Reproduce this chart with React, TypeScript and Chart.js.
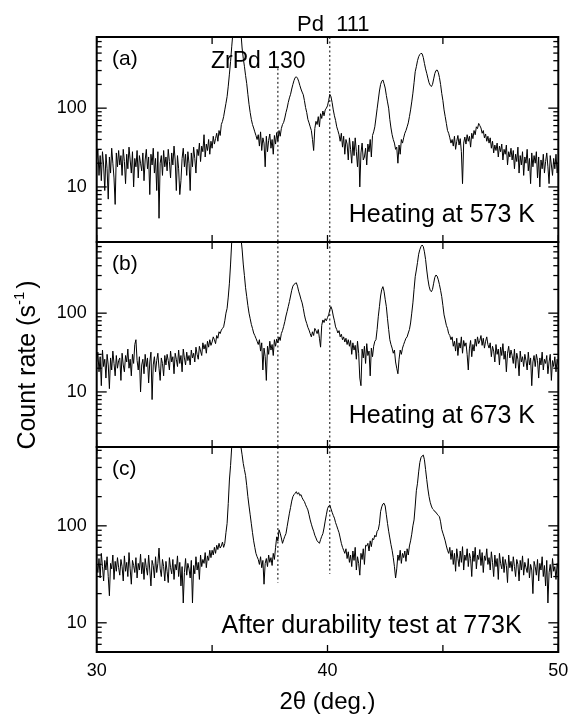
import React, { useEffect, useRef } from 'react';
import { Chart, registerables } from 'chart.js';

Chart.register(...registerables);

const FONT = '"Liberation Sans", Arial, Helvetica, sans-serif';

// 2θ sampling grid (deg.), 30.00 … 50.00 in 0.05° steps
const twoTheta: number[] = Array.from({ length: 401 }, (_, i) => (600 + i) / 20);

// (a) heating at 573 K — count rate (s^-1), one row per degree
const countsA: number[] = [
  22, 30, 14, 25, 12, 28, 19, 9, 26, 17, 7, 24, 15, 31, 20, 13, 6, 27, 18, 29,
  19, 25, 14, 30, 21, 11, 26, 17, 32, 22, 15, 28, 10, 23, 18, 29, 13, 25, 20, 16,
  27, 12, 22, 30, 17, 24, 8, 26, 19, 31, 15, 23, 9, 28, 4, 20, 25, 14, 29, 18,
  24, 16, 30, 21, 13, 27, 19, 33, 22, 9, 25, 17, 8, 12, 23, 31, 18, 26, 14, 28,
  20, 9, 27, 18, 32, 23, 15, 30, 25, 36, 21, 33, 28, 46, 24, 35, 29, 40, 26, 38,
  31, 44, 35, 41, 48, 38, 52, 45, 62, 68, 78, 95, 115, 140, 190, 270, 390, 600, 900, 1200,
  1400, 1550, 1600, 1500, 1200, 900, 580, 430, 340, 260, 205, 150, 112, 88, 72, 62, 56, 50, 45, 40,
  46, 33, 50, 29, 42, 36, 18, 44, 28, 39, 47, 31, 40, 26, 45, 35, 49, 38, 52, 44,
  55, 62, 66, 75, 88, 100, 118, 135, 150, 175, 200, 225, 245, 250, 240, 220, 195, 175, 160, 148,
  125, 102, 88, 72, 65, 58, 52, 40, 29, 55, 68, 62, 78, 58, 85, 74, 92, 80, 95, 100,
  107, 125, 150, 140, 118, 95, 80, 70, 58, 52, 46, 38, 48, 32, 44, 26, 40, 35, 22, 42,
  30, 20, 38, 25, 42, 28, 18, 34, 10, 27, 36, 22, 24, 31, 19, 35, 28, 40, 24, 45,
  50, 58, 75, 98, 127, 165, 200, 220, 228, 205, 180, 145, 120, 100, 72, 56, 46, 40, 36, 30,
  32, 20, 34, 26, 40, 36, 42, 48, 52, 58, 65, 78, 95, 120, 155, 210, 290, 336, 400, 450,
  480, 497, 490, 440, 370, 315, 277, 240, 210, 195, 188, 200, 235, 275, 300, 305, 285, 245, 200, 154,
  125, 95, 78, 64, 52, 48, 42, 36, 40, 33, 44, 30, 38, 45, 34, 41, 28, 11, 36, 43,
  35, 46, 38, 44, 32, 48, 41, 52, 46, 58, 55, 64, 60, 56, 48, 52, 42, 47, 38, 44,
  36, 42, 31, 38, 27, 34, 29, 36, 24, 33, 28, 35, 22, 30, 26, 34, 19, 28, 24, 31,
  22, 29, 17, 26, 21, 32, 15, 25, 19, 28, 14, 24, 20, 30, 16, 23, 11, 27, 18, 25,
  20, 28, 13, 24, 10, 22, 17, 26, 15, 21, 27, 18, 11, 25, 19, 14, 23, 17, 26, 15,
  21,
];

// (b) heating at 673 K
const countsB: number[] = [
  24, 32, 18, 28, 12, 34, 21, 26, 15, 30, 22, 11, 27, 19, 33, 23, 16, 29, 20, 25,
  27, 14, 31, 22, 18, 29, 24, 35, 20, 26, 16, 30, 23, 40, 46, 25, 19, 28, 10, 22,
  26, 17, 30, 21, 27, 13, 24, 32, 8, 22, 28, 18, 25, 31, 20, 14, 27, 23, 16, 29,
  22, 30, 25, 19, 33, 24, 28, 17, 31, 26, 21, 34, 23, 29, 18, 35, 27, 22, 32, 25,
  29, 22, 34, 27, 31, 24, 37, 30, 26, 38, 33, 29, 42, 35, 40, 31, 44, 37, 46, 39,
  43, 50, 46, 41, 52, 48, 58, 55, 61, 64, 67, 80, 100, 115, 160, 240, 420, 800, 1200, 1500,
  1600, 1700, 1650, 1500, 1200, 900, 650, 420, 300, 210, 162, 125, 100, 85, 72, 64, 56, 52, 48, 44,
  40, 46, 33, 42, 19, 36, 28, 14, 38, 30, 44, 34, 40, 29, 46, 38, 47, 42, 50, 45,
  55, 60, 68, 78, 92, 105, 121, 140, 165, 195, 220, 232, 238, 243, 220, 190, 170, 150, 135, 115,
  95, 82, 74, 66, 61, 55, 50, 58, 52, 64, 60, 55, 62, 48, 37, 70, 82, 76, 85, 80,
  88, 95, 110, 121, 110, 92, 80, 67, 62, 56, 60, 50, 54, 46, 50, 43, 48, 40, 46, 38,
  45, 30, 42, 34, 39, 26, 44, 31, 15, 12, 35, 27, 38, 23, 41, 29, 33, 16, 36, 28,
  38, 44, 46, 62, 90, 121, 165, 200, 217, 190, 150, 121, 85, 62, 46, 40, 36, 31, 34, 24,
  20, 17, 26, 34, 30, 36, 40, 44, 48, 50, 56, 62, 75, 100, 135, 200, 290, 353, 440, 560,
  640, 700, 733, 700, 600, 480, 353, 270, 220, 195, 187, 200, 240, 285, 305, 295, 265, 230, 195, 162,
  125, 95, 82, 70, 64, 55, 52, 46, 50, 38, 44, 33, 48, 29, 42, 36, 50, 31, 45, 38,
  42, 30, 19, 36, 45, 28, 40, 33, 47, 38, 50, 41, 45, 52, 39, 48, 36, 44, 50, 40,
  36, 42, 28, 38, 33, 24, 40, 30, 35, 22, 37, 29, 41, 26, 33, 18, 31, 38, 27, 34,
  29, 23, 35, 20, 31, 26, 16, 33, 24, 28, 21, 30, 25, 19, 32, 22, 27, 12, 24, 29,
  21, 30, 25, 15, 27, 22, 32, 19, 26, 23, 29, 17, 24, 30, 14, 25, 21, 28, 18, 26,
  22,
];

// (c) after durability test at 773 K
const countsC: number[] = [
  40, 33, 46, 29, 52, 38, 27, 44, 35, 48, 30, 19, 41, 36, 50, 28, 43, 34, 47, 37,
  31, 45, 38, 27, 49, 34, 42, 30, 53, 36, 25, 44, 39, 33, 47, 29, 41, 35, 51, 32,
  42, 28, 46, 37, 31, 50, 35, 24, 44, 39, 29, 48, 33, 41, 59, 36, 30, 45, 38, 27,
  43, 34, 26, 47, 37, 32, 45, 28, 40, 35, 49, 30, 42, 24, 38, 16, 33, 46, 31, 41,
  36, 29, 44, 16, 39, 32, 48, 35, 42, 28, 50, 38, 45, 41, 53, 37, 49, 44, 56, 47,
  56, 50, 60, 52, 63, 57, 66, 59, 62, 68, 60, 66, 85, 106, 170, 297, 420, 650, 1000, 1300,
  1500, 1600, 1550, 1300, 1000, 650, 540, 440, 380, 330, 260, 200, 160, 130, 105, 85, 70, 60, 52, 48,
  45, 40, 48, 37, 44, 25, 41, 46, 38, 50, 42, 47, 39, 52, 45, 60, 77, 70, 91, 84,
  75, 66, 72, 78, 83, 98, 115, 135, 155, 180, 200, 210, 217, 225, 212, 220, 205, 210, 195, 185,
  178, 165, 155, 146, 130, 115, 104, 95, 88, 80, 75, 70, 68, 66, 72, 78, 83, 95, 112, 130,
  150, 160, 164, 150, 138, 128, 120, 108, 100, 92, 85, 75, 66, 60, 56, 52, 58, 46, 54, 42,
  50, 38, 55, 44, 60, 35, 48, 41, 31, 52, 45, 58, 40, 63, 62, 66, 55, 70, 61, 74,
  72, 80, 77, 88, 91, 105, 140, 157, 168, 171, 160, 130, 106, 88, 75, 64, 56, 47, 38, 29,
  36, 50, 44, 56, 41, 52, 47, 55, 43, 58, 50, 62, 70, 82, 100, 115, 160, 230, 275, 360,
  450, 505, 525, 537, 480, 380, 300, 240, 200, 175, 160, 150, 146, 140, 138, 132, 128, 124, 110, 92,
  84, 77, 70, 62, 56, 52, 60, 45, 56, 40, 52, 34, 58, 46, 38, 55, 42, 61, 35, 50,
  44, 58, 38, 52, 46, 30, 55, 43, 60, 36, 50, 45, 57, 39, 53, 33, 49, 44, 58, 40,
  47, 35, 54, 42, 30, 50, 38, 46, 28, 52, 41, 36, 48, 33, 45, 39, 26, 50, 37, 43,
  34, 48, 38, 30, 45, 40, 27, 44, 35, 49, 31, 42, 37, 33, 46, 29, 40, 35, 20, 43,
  38, 31, 45, 27, 41, 35, 48, 30, 39, 24, 44, 16, 33, 40, 29, 46, 34, 38, 28, 41,
  36,
];

const panelCounts = [countsA, countsB, countsC];
const panelNames = ['(a)', '(b)', '(c)'];
const panelCaptions = ['Heating at 573 K', 'Heating at 673 K', 'After durability test at 773K'];
const yMinValues = [2, 2, 5];
const yMaxValues = [800, 800, 650];
const yLabelValues = [10, 100];
const xTickValues = [30, 35, 40, 45, 50];
const xLabelValues = [30, 40, 50];

// reference reflections (deg.) and the count-rate span of their dotted markers per panel
const zrPd130 = 37.85;
const pd111 = 40.1;
const zrPdSpan = [[320, 2], [800, 2], [650, 26]];
const pdSpan = [[800, 2], [800, 2], [650, 32]];

const W = 569;
const H = 717;
const PLOT_LEFT = 96.7;
const PLOT_RIGHT = 558.3;
const PANEL_TOPS = [37, 242, 447];
const PANEL_H = 205;
const Y_AXIS_W = 60;
const X_AXIS_H = 65;

function text(ctx: CanvasRenderingContext2D, s: string, x: number, y: number, size: number, align: CanvasTextAlign = 'left') {
  ctx.font = `${size}px ${FONT}`;
  ctx.fillStyle = '#000';
  ctx.textAlign = align;
  ctx.textBaseline = 'alphabetic';
  ctx.fillText(s, x, y);
}

function framePlugin(i: number) {
  return {
    id: 'frame' + i,
    afterDraw(chart: any) {
      const { ctx, chartArea: a, scales } = chart;
      const xs = scales.x;
      const ys = scales.y;
      ctx.save();
      ctx.strokeStyle = '#000';
      const seg = (x1: number, y1: number, x2: number, y2: number) => {
        ctx.beginPath();
        ctx.moveTo(x1, y1);
        ctx.lineTo(x2, y2);
        ctx.stroke();
      };
      // y ticks (log, inward, both sides)
      ctx.lineWidth = 1.3;
      const d0 = Math.floor(Math.log10(ys.min));
      const d1 = Math.ceil(Math.log10(ys.max));
      for (let d = d0; d <= d1; d++) {
        for (let k = 1; k <= 9; k++) {
          const v = k * Math.pow(10, d);
          if (v < ys.min * 0.999 || v > ys.max * 1.001) continue;
          const py = ys.getPixelForValue(v);
          const len = k === 1 ? 10 : 5;
          seg(a.left, py, a.left + len, py);
          seg(a.right, py, a.right - len, py);
        }
      }
      // x ticks (inward, top and bottom)
      for (const v of xTickValues) {
        const px = xs.getPixelForValue(v);
        seg(px, a.top, px, a.top + 7);
        seg(px, a.bottom, px, a.bottom - 7);
      }
      // frame
      ctx.lineWidth = 2;
      ctx.strokeRect(a.left, a.top, a.right - a.left, a.bottom - a.top);

      // texts
      text(ctx, panelNames[i], a.left + 15.3, a.top + 28, 21);
      text(ctx, panelCaptions[i], i === 2 ? a.left + 425 : a.left + 438.3, a.top + (i === 0 ? 185 : i === 1 ? 181 : 186), 25, 'right');
      if (i === 0) {
        text(ctx, 'ZrPd 130', a.left + 114.3, a.top + 31, 23);
        text(ctx, 'Pd  111', a.left + 200.3, a.top - 6, 22);
      }
      if (i === 1) {
        // y-axis title with superscript
        const main = 'Count rate (s';
        const sup = '-1';
        const close = ')';
        ctx.font = `25px ${FONT}`;
        const wMain = ctx.measureText(main).width;
        const wClose = ctx.measureText(close).width;
        ctx.font = `15px ${FONT}`;
        const wSup = ctx.measureText(sup).width;
        const total = wMain + wSup + 3 + wClose;
        ctx.translate(a.left - 61.7, a.top + 123);
        ctx.rotate(-Math.PI / 2);
        let x0 = -total / 2;
        text(ctx, main, x0, 0, 25);
        x0 += wMain;
        text(ctx, sup, x0, -11, 15);
        x0 += wSup + 3;
        text(ctx, close, x0, 0, 25);
      }
      ctx.restore();
    },
  };
}

function buildConfig(i: number): any {
  const top = PANEL_TOPS[i];
  const hasX = i === 2;
  const padBottom = H - (top + PANEL_H) - (hasX ? X_AXIS_H : 0);
  const counts = panelCounts[i];
  const dotted = {
    borderColor: '#000',
    borderWidth: 1,
    borderDash: [2, 2.5],
    pointRadius: 0,
    fill: false,
  };
  return {
    type: 'line',
    data: {
      datasets: [
        {
          data: twoTheta.map((x, j) => ({ x, y: counts[j] })),
          borderColor: '#000',
          borderWidth: 1,
          pointRadius: 0,
          tension: 0,
          fill: false,
        },
        { ...dotted, data: [{ x: zrPd130, y: zrPdSpan[i][0] }, { x: zrPd130, y: zrPdSpan[i][1] }] },
        { ...dotted, data: [{ x: pd111, y: pdSpan[i][0] }, { x: pd111, y: pdSpan[i][1] }] },
      ],
    },
    options: {
      responsive: false,
      animation: false,
      devicePixelRatio: 1,
      events: [],
      layout: {
        padding: {
          left: PLOT_LEFT - Y_AXIS_W,
          right: W - PLOT_RIGHT,
          top,
          bottom: padBottom,
        },
      },
      plugins: { legend: { display: false }, tooltip: { enabled: false }, title: { display: false } },
      scales: {
        x: {
          type: 'linear',
          min: 30,
          max: 50,
          display: hasX,
          afterFit: (s: any) => {
            if (s.options.display) s.height = X_AXIS_H;
            s.paddingLeft = 0;
            s.paddingRight = 0;
          },
          afterBuildTicks: (s: any) => {
            s.ticks = xLabelValues.map((v) => ({ value: v }));
          },
          ticks: {
            autoSkip: false,
            maxRotation: 0,
            padding: 8,
            color: '#000',
            font: { family: FONT, size: 18 },
          },
          grid: { display: false, drawTicks: false },
          border: { display: false },
          title: {
            display: true,
            text: '2θ (deg.)',
            color: '#000',
            font: { family: FONT, size: 24 },
            padding: { top: 0, bottom: 0 },
          },
        },
        y: {
          type: 'logarithmic',
          min: yMinValues[i],
          max: yMaxValues[i],
          bounds: 'data',
          afterFit: (s: any) => {
            s.width = Y_AXIS_W;
            s.paddingLeft = 0;
            s.paddingRight = 0;
          },
          afterBuildTicks: (s: any) => {
            s.ticks = yLabelValues.filter((v) => v >= s.min && v <= s.max).map((v) => ({ value: v }));
          },
          ticks: {
            autoSkip: false,
            padding: 10,
            color: '#000',
            font: { family: FONT, size: 18 },
            callback: (v: any) => String(v),
          },
          grid: { display: false, drawTicks: false },
          border: { display: false },
        },
      },
    },
    plugins: [framePlugin(i)],
  };
}

export default function App() {
  const r0 = useRef<HTMLCanvasElement>(null);
  const r1 = useRef<HTMLCanvasElement>(null);
  const r2 = useRef<HTMLCanvasElement>(null);
  useEffect(() => {
    const refs = [r0, r1, r2];
    const charts = refs.map((r, i) => new Chart(r.current as HTMLCanvasElement, buildConfig(i)));
    return () => charts.forEach((c) => c.destroy());
  }, []);
  const cs: React.CSSProperties = { position: 'absolute', left: 0, top: 0, width: W, height: H };
  return (
    <div style={{ position: 'absolute', left: 0, top: 0, width: W, height: H, background: '#fff' }}>
      <canvas ref={r0} width={W} height={H} style={cs} />
      <canvas ref={r1} width={W} height={H} style={cs} />
      <canvas ref={r2} width={W} height={H} style={cs} />
    </div>
  );
}
